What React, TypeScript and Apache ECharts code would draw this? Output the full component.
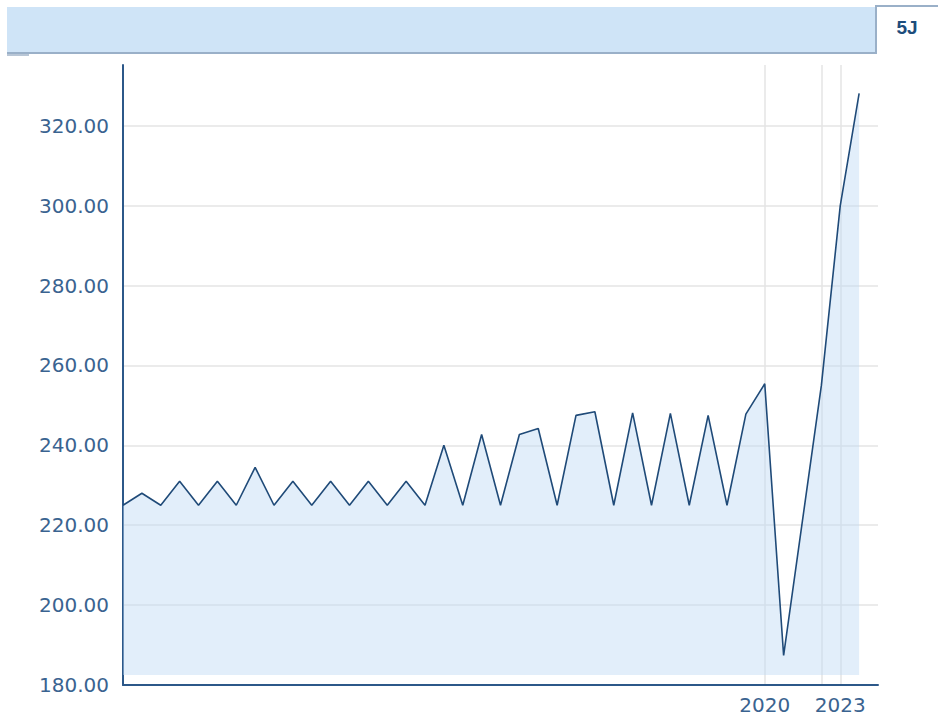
import React, { useEffect, useRef } from "react";
import * as echarts from "echarts";

// x categories (one per period); only a few carry year labels
const categories = [
  "", "", "", "", "", "", "", "", "", "",
  "", "", "", "", "", "", "", "", "", "",
  "", "", "", "", "", "", "", "", "", "",
  "", "", "", "", "2020", "", "", "2022", "2023", "", "",
];
const shownLabelIndices = [34, 38];
const gridLineIndices = [34, 37, 38];

const values = [
  225, 228, 225, 231, 225, 231, 225, 234.5, 225, 231,
  225, 231, 225, 231, 225, 231, 225, 240, 225, 242.7,
  225, 242.7, 244.2, 225, 247.5, 248.4, 225, 248.1, 225, 248,
  225, 247.5, 225, 247.8, 255.4, 187.4, 221.2, 255, 300, 328.1,
];

const yMin = 180;
const yMax = 335.2;
const yStep = 20;
const badge = "5J";

export default function App() {
  const ref = useRef<HTMLDivElement>(null);
  useEffect(() => {
    document.body.style.margin = "0";
    const chart = echarts.init(ref.current!, null, { renderer: "svg" });
    const labelColor = "#3a6390";
    const axisColor = "#2c5889";
    const border = "#9ab0c8";
    chart.setOption({
      animation: false,
      backgroundColor: "#ffffff",
      grid: { left: 123, right: 60, top: 65, bottom: 35, containLabel: false },
      xAxis: {
        type: "category",
        data: categories,
        boundaryGap: false,
        axisLine: { show: true, lineStyle: { color: axisColor, width: 2 } },
        axisTick: { show: false },
        axisLabel: {
          interval: (i: number) => shownLabelIndices.includes(i),
          color: labelColor,
          fontSize: 20,
          fontFamily: "DejaVu Sans",
          margin: 10,
        },
        splitLine: {
          show: true,
          interval: (i: number) => gridLineIndices.includes(i),
          lineStyle: { color: "#e4e4e4", width: 1.5 },
        },
      },
      yAxis: {
        type: "value",
        min: yMin,
        max: yMax,
        interval: yStep,
        axisLine: { show: true, lineStyle: { color: axisColor, width: 2 } },
        axisTick: { show: false },
        axisLabel: {
          formatter: (v: number) => v.toFixed(2),
          showMaxLabel: false,
          color: labelColor,
          fontSize: 20,
          fontFamily: "DejaVu Sans",
          margin: 14,
        },
        splitLine: {
          show: true,
          lineStyle: {
            color: [
              "#e4e4e4", "#e4e4e4", "#e4e4e4", "#e4e4e4", "#e4e4e4",
              "#e4e4e4", "#e4e4e4", "#e4e4e4", "rgba(0,0,0,0)",
            ],
            width: 1.5,
          },
        },
      },
      series: [
        {
          type: "line",
          data: values,
          showSymbol: false,
          symbol: "none",
          lineStyle: { color: "#1f4a78", width: 1.6 },
          areaStyle: { color: "rgba(190,218,243,0.45)", opacity: 1, origin: 182.5 },
          z: 3,
        },
      ],
      graphic: [
        {
          type: "rect",
          shape: { x: 7, y: 7, width: 869, height: 46 },
          style: { fill: "#cfe4f7" },
          silent: true,
        },
        {
          type: "rect",
          shape: { x: 7, y: 52, width: 870, height: 2 },
          style: { fill: border },
          silent: true,
        },
        {
          type: "rect",
          shape: { x: 7, y: 54, width: 22, height: 2 },
          style: { fill: "#b8c6d6" },
          silent: true,
        },
        {
          type: "rect",
          shape: { x: 875, y: 5, width: 2, height: 49 },
          style: { fill: border },
          silent: true,
        },
        {
          type: "rect",
          shape: { x: 875, y: 5, width: 63, height: 2 },
          style: { fill: border },
          silent: true,
        },
        {
          type: "text",
          x: 907,
          y: 27,
          style: {
            text: badge,
            fill: "#1d4d7c",
            fontSize: 19,
            fontWeight: "bold",
            fontFamily: "Liberation Sans",
            align: "center",
            verticalAlign: "middle",
          },
          silent: true,
        },
      ],
    });
    return () => chart.dispose();
  }, []);
  return <div ref={ref} style={{ width: 938, height: 720 }} />;
}
